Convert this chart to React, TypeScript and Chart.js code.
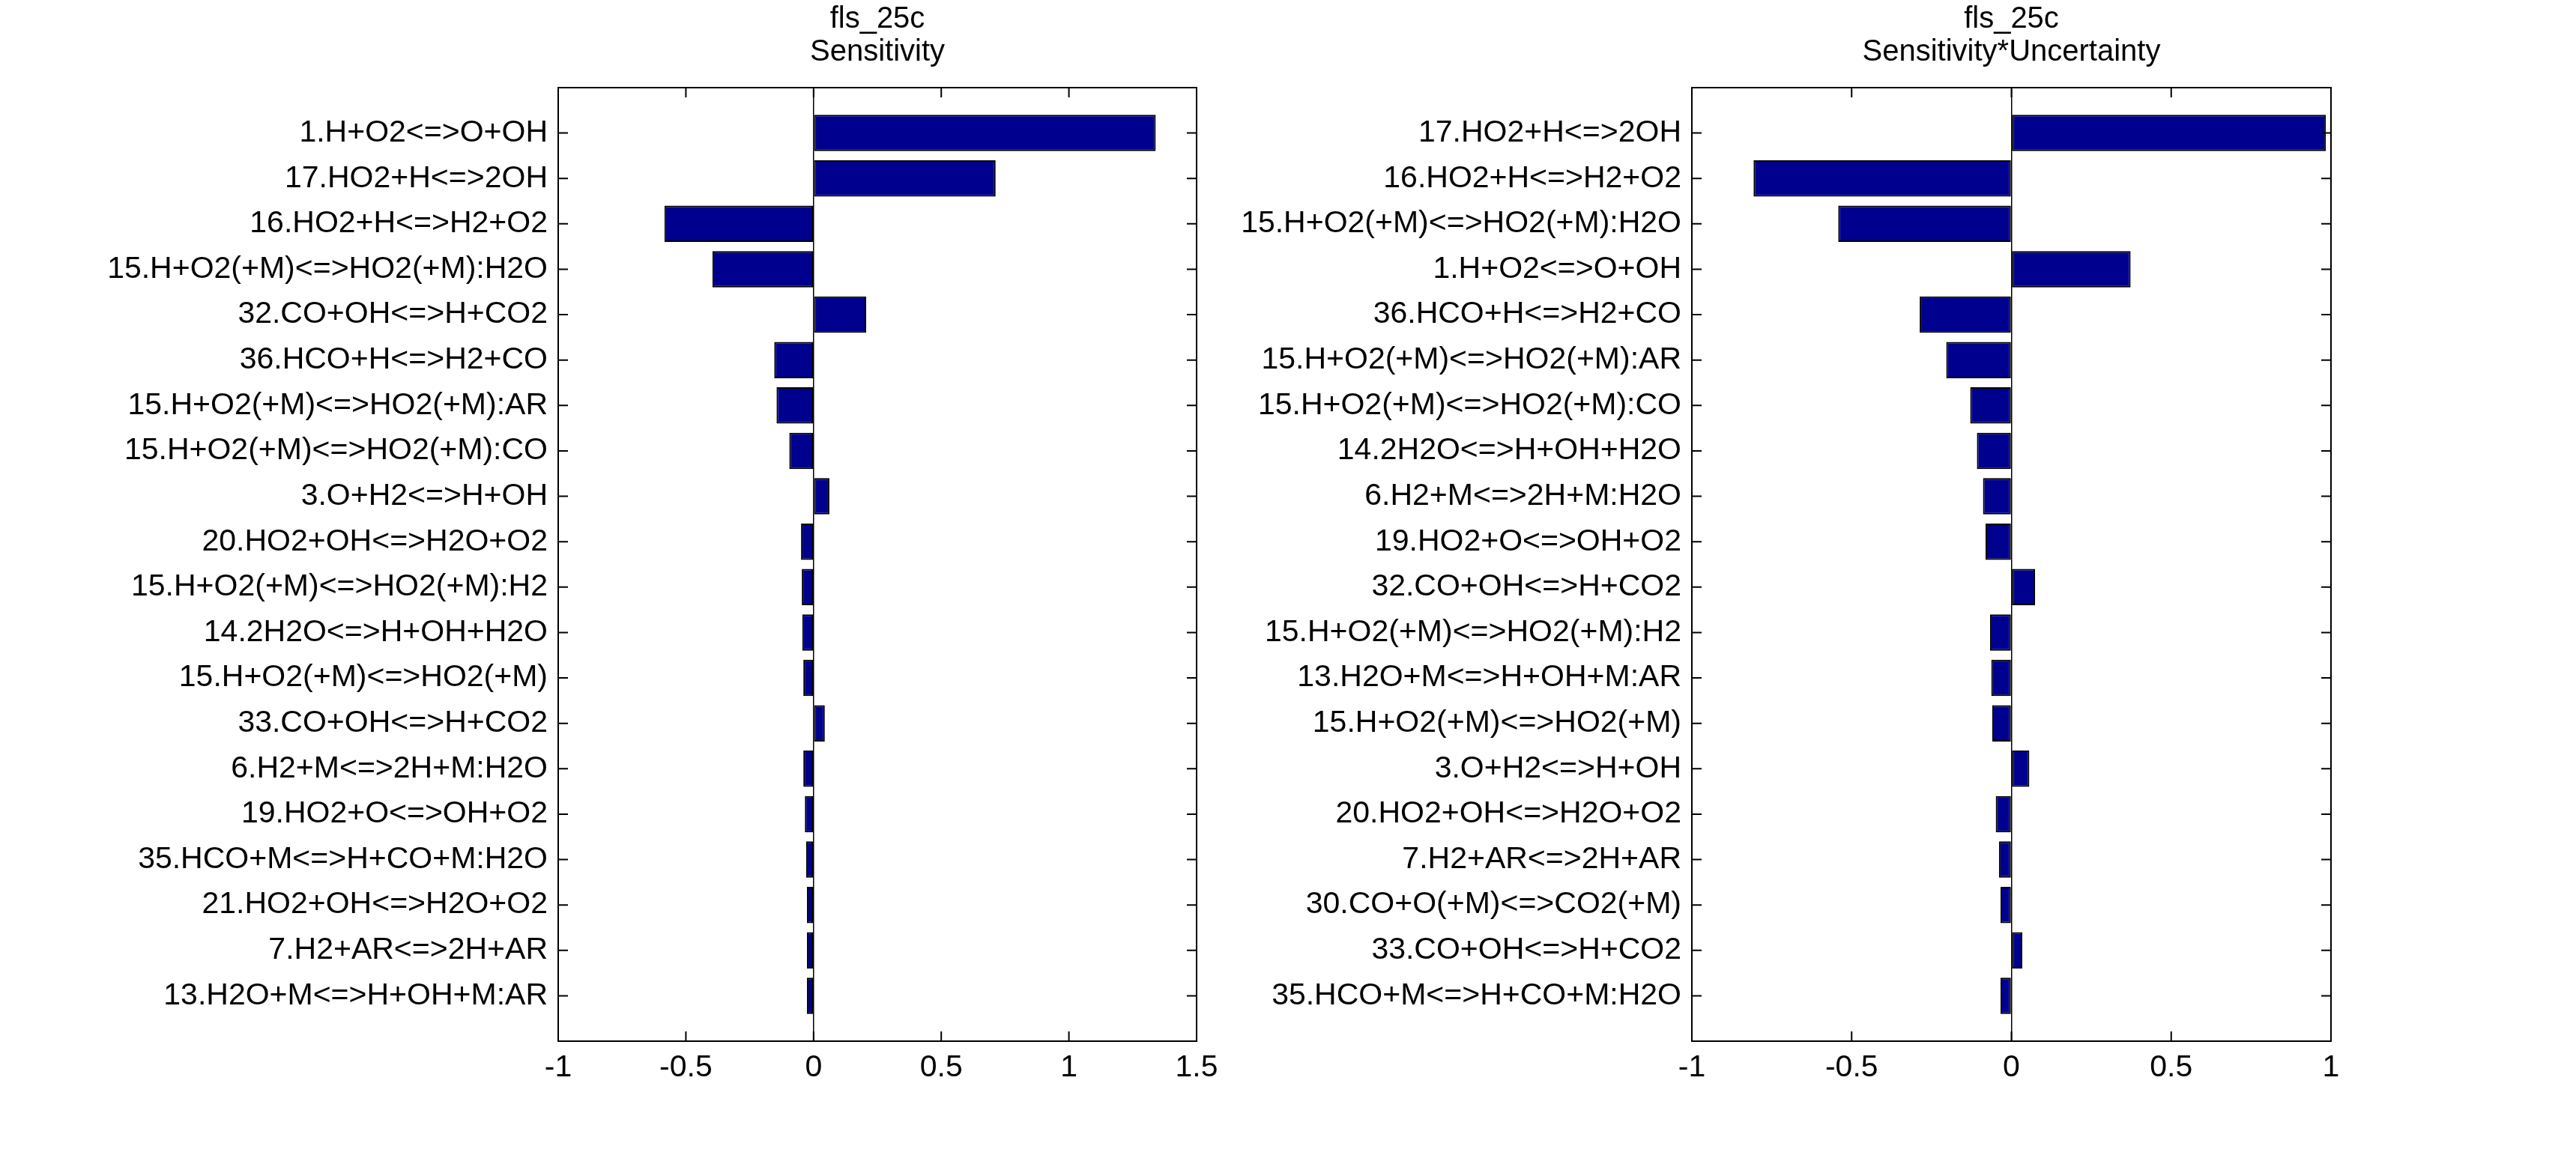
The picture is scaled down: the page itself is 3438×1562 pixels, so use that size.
import React, { useEffect, useRef } from 'react';
import { Chart, registerables } from 'chart.js';

Chart.register(...registerables);

const FONT = "'Liberation Sans', Arial, Helvetica, sans-serif";

const leftTitle = ['fls_25c', 'Sensitivity'];
const leftLabels = [
  '1.H+O2<=>O+OH',
  '17.HO2+H<=>2OH',
  '16.HO2+H<=>H2+O2',
  '15.H+O2(+M)<=>HO2(+M):H2O',
  '32.CO+OH<=>H+CO2',
  '36.HCO+H<=>H2+CO',
  '15.H+O2(+M)<=>HO2(+M):AR',
  '15.H+O2(+M)<=>HO2(+M):CO',
  '3.O+H2<=>H+OH',
  '20.HO2+OH<=>H2O+O2',
  '15.H+O2(+M)<=>HO2(+M):H2',
  '14.2H2O<=>H+OH+H2O',
  '15.H+O2(+M)<=>HO2(+M)',
  '33.CO+OH<=>H+CO2',
  '6.H2+M<=>2H+M:H2O',
  '19.HO2+O<=>OH+O2',
  '35.HCO+M<=>H+CO+M:H2O',
  '21.HO2+OH<=>H2O+O2',
  '7.H2+AR<=>2H+AR',
  '13.H2O+M<=>H+OH+M:AR',
];
const leftValues = [
  1.34, 0.713, -0.584, -0.396, 0.206, -0.154, -0.145, -0.095, 0.062, -0.049,
  -0.046, -0.044, -0.04, 0.044, -0.04, -0.034, -0.029, -0.026, -0.026, -0.026,
];
const leftTicks = [-1, -0.5, 0, 0.5, 1, 1.5];

const rightTitle = ['fls_25c', 'Sensitivity*Uncertainty'];
const rightLabels = [
  '17.HO2+H<=>2OH',
  '16.HO2+H<=>H2+O2',
  '15.H+O2(+M)<=>HO2(+M):H2O',
  '1.H+O2<=>O+OH',
  '36.HCO+H<=>H2+CO',
  '15.H+O2(+M)<=>HO2(+M):AR',
  '15.H+O2(+M)<=>HO2(+M):CO',
  '14.2H2O<=>H+OH+H2O',
  '6.H2+M<=>2H+M:H2O',
  '19.HO2+O<=>OH+O2',
  '32.CO+OH<=>H+CO2',
  '15.H+O2(+M)<=>HO2(+M):H2',
  '13.H2O+M<=>H+OH+M:AR',
  '15.H+O2(+M)<=>HO2(+M)',
  '3.O+H2<=>H+OH',
  '20.HO2+OH<=>H2O+O2',
  '7.H2+AR<=>2H+AR',
  '30.CO+O(+M)<=>CO2(+M)',
  '33.CO+OH<=>H+CO2',
  '35.HCO+M<=>H+CO+M:H2O',
];
const rightValues = [
  0.984, -0.807, -0.542, 0.373, -0.287, -0.204, -0.129, -0.108, -0.089, -0.081,
  0.074, -0.067, -0.063, -0.06, 0.056, -0.049, -0.039, -0.034, 0.034, -0.034,
];
const rightTicks = [-1, -0.5, 0, 0.5, 1];

const H = 1562;

const boxPlugin = {
  id: 'matlabBox',
  afterDraw(chart: any) {
    const { ctx, chartArea: a, scales } = chart;
    ctx.save();
    ctx.strokeStyle = '#000';
    ctx.lineWidth = 2;
    ctx.strokeRect(a.left, a.top, a.right - a.left, a.bottom - a.top);
    const tl = 13;
    ctx.beginPath();
    scales.x.ticks.forEach((t: any) => {
      const px = scales.x.getPixelForValue(t.value);
      ctx.moveTo(px, a.top);
      ctx.lineTo(px, a.top + tl);
      ctx.moveTo(px, a.bottom);
      ctx.lineTo(px, a.bottom - tl);
    });
    scales.y.ticks.forEach((t: any) => {
      const py = scales.y.getPixelForValue(t.value);
      ctx.moveTo(a.left, py);
      ctx.lineTo(a.left + tl, py);
      ctx.moveTo(a.right, py);
      ctx.lineTo(a.right - tl, py);
    });
    ctx.stroke();
    ctx.restore();
  },
};

type PanelProps = {
  title: string[];
  labels: string[];
  values: number[];
  ticks: number[];
  left: number;
  width: number;
  yAxisWidth: number;
  rightPad: number;
};

function Panel(p: PanelProps) {
  const ref = useRef<HTMLCanvasElement>(null);
  useEffect(() => {
    const chart = new Chart(ref.current as HTMLCanvasElement, {
      type: 'bar',
      data: {
        datasets: [
          {
            data: p.values.map((v, i) => ({ x: v, y: i + 1 })) as any,
            backgroundColor: '#00008F',
            borderColor: '#000000',
            borderWidth: 2,
            borderSkipped: false,
            barPercentage: 0.8,
            categoryPercentage: 1,
          },
        ],
      },
      options: {
        indexAxis: 'y',
        animation: false,
        responsive: false,
        events: [],
        layout: { padding: { left: 0, right: p.rightPad, top: 0, bottom: 0 } },
        plugins: {
          legend: { display: false },
          tooltip: { enabled: false },
          title: {
            display: true,
            text: p.title,
            fullSize: false,
            color: '#000',
            font: { family: FONT, size: 40, weight: 'normal', lineHeight: 1.1 },
            padding: { top: 4, bottom: 25 },
          },
        },
        scales: {
          x: {
            type: 'linear',
            position: 'bottom',
            offset: false,
            min: p.ticks[0],
            max: p.ticks[p.ticks.length - 1],
            afterBuildTicks: (s: any) => {
              s.ticks = p.ticks.map((v) => ({ value: v }));
            },
            afterFit: (s: any) => {
              s.height = H - 1390;
            },
            ticks: {
              font: { family: FONT, size: 41 },
              color: '#000',
              padding: 11,
              autoSkip: false,
              maxRotation: 0,
              callback: (v: any) => String(v),
            },
            grid: {
              offset: false,
              drawTicks: false,
              color: (c: any) => (c.tick && c.tick.value === 0 ? '#000' : 'rgba(0,0,0,0)'),
              lineWidth: 1.5,
            },
            border: { display: false },
          },
          y: {
            type: 'linear',
            position: 'left',
            offset: false,
            min: 0,
            max: p.labels.length + 1,
            reverse: true,
            afterBuildTicks: (s: any) => {
              s.ticks = p.labels.map((_, i) => ({ value: i + 1 }));
            },
            afterFit: (s: any) => {
              s.width = p.yAxisWidth;
            },
            ticks: {
              font: { family: FONT, size: 41 },
              color: '#000',
              padding: 14,
              autoSkip: false,
              callback: (v: any) => p.labels[Number(v) - 1] ?? '',
            },
            grid: { display: false, drawTicks: false, offset: false },
            border: { display: false },
          },
        },
      } as any,
      plugins: [boxPlugin],
    });
    return () => chart.destroy();
  }, []);
  return (
    <canvas
      ref={ref}
      width={p.width}
      height={H}
      style={{ position: 'absolute', left: p.left, top: 0, width: p.width, height: H }}
    />
  );
}

export default function App() {
  return (
    <div
      style={{
        position: 'fixed',
        left: 0,
        top: 0,
        width: 3438,
        height: H,
        background: '#ffffff',
        overflow: 'hidden',
      }}
    >
      <Panel
        title={leftTitle}
        labels={leftLabels}
        values={leftValues}
        ticks={leftTicks}
        left={0}
        width={1650}
        yAxisWidth={745}
        rightPad={1650 - 1597}
      />
      <Panel
        title={rightTitle}
        labels={rightLabels}
        values={rightValues}
        ticks={rightTicks}
        left={1650}
        width={3438 - 1650}
        yAxisWidth={2258 - 1650}
        rightPad={3438 - 3111}
      />
    </div>
  );
}
